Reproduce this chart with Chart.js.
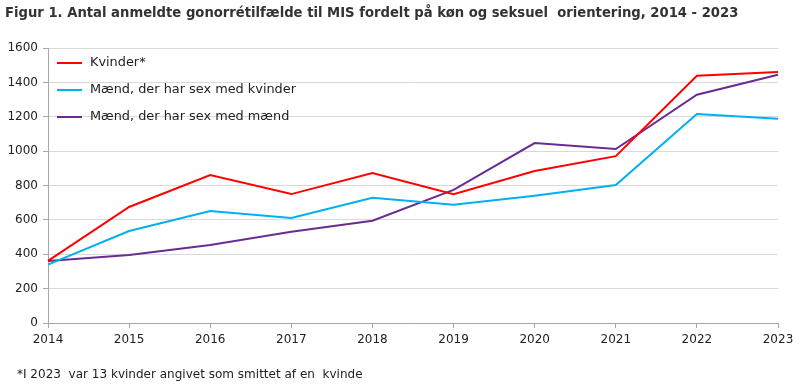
<!DOCTYPE html>
<html>
<head>
<meta charset="utf-8">
<script src="https://cdn.jsdelivr.net/npm/chart.js@4.4.0/dist/chart.umd.min.js"></script>
<style>
html,body{margin:0;padding:0;background:#fff;width:800px;height:390px;overflow:hidden;}
#title{position:absolute;left:5px;top:3px;font-family:"DejaVu Sans Condensed","DejaVu Sans",sans-serif;font-weight:bold;font-size:15px;color:#333;white-space:nowrap;}
#note{position:absolute;left:17px;top:367px;font-family:"DejaVu Sans",sans-serif;font-size:12px;color:#222;white-space:nowrap;}
#wrap{position:absolute;left:0;top:0;width:800px;height:390px;}
</style>
</head>
<body>
<div id="wrap"><canvas id="c" width="800" height="390"></canvas></div>
<div id="title">Figur 1. Antal anmeldte gonorrétilfælde til MIS fordelt på køn og seksuel&nbsp; orientering, 2014 - 2023</div>
<div id="note">*I 2023&nbsp; var 13 kvinder angivet som smittet af en&nbsp; kvinde</div>
<script>
const years = ["2014","2015","2016","2017","2018","2019","2020","2021","2022","2023"];
const kvinder = [361, 675, 861, 750, 873, 750, 884, 971, 1439, 1460];
const maendKvinder = [340, 535, 652, 611, 729, 688, 741, 803, 1216, 1189];
const maendMaend = [361, 396, 454, 531, 595, 774, 1047, 1012, 1328, 1444];
const seriesLabels = ["Kvinder*", "Mænd, der har sex med kvinder", "Mænd, der har sex med mænd"];
const seriesColors = ["#ff0000", "#00b0f0", "#6a2c91"];

const FONT = "DejaVu Sans";

// fit text widths to the reference
function fitWidth(el, target) {
  const w = el.getBoundingClientRect().width;
  const fs = parseFloat(getComputedStyle(el).fontSize);
  el.style.fontSize = (fs * target / w) + "px";
}
fitWidth(document.getElementById('title'), 734);
fitWidth(document.getElementById('note'), 346);

const legendPlugin = {
  id: 'insideLegend',
  afterDraw(chart) {
    const ctx = chart.ctx;
    const ys = [63, 90, 117];
    ctx.save();
    ctx.font = "13px " + FONT;
    const w = ctx.measureText(seriesLabels[1]).width;
    const fs = 13 * 206 / w;
    ctx.font = fs + "px " + FONT;
    ctx.textBaseline = "middle";
    chart.data.datasets.forEach((ds, i) => {
      ctx.strokeStyle = ds.borderColor;
      ctx.lineWidth = 2;
      ctx.beginPath();
      ctx.moveTo(57, ys[i]);
      ctx.lineTo(82, ys[i]);
      ctx.stroke();
      ctx.fillStyle = "#222";
      ctx.fillText(ds.label, 90, ys[i]);
    });
    ctx.restore();
  }
};

new Chart(document.getElementById('c'), {
  type: 'line',
  data: {
    labels: years,
    datasets: [
      {label: seriesLabels[0], data: kvinder, borderColor: seriesColors[0]},
      {label: seriesLabels[1], data: maendKvinder, borderColor: seriesColors[1]},
      {label: seriesLabels[2], data: maendMaend, borderColor: seriesColors[2]}
    ].map(d => Object.assign(d, {borderWidth: 2, pointRadius: 0, tension: 0, fill: false}))
  },
  options: {
    responsive: false,
    animation: false,
    layout: {padding: {left: 0, right: 22, top: 48, bottom: 0}},
    plugins: {legend: {display: false}, tooltip: {enabled: false}},
    scales: {
      x: {
        offset: false,
        grid: {display: true, drawOnChartArea: false, color: '#a6a6a6', tickLength: 5},
        border: {color: '#a6a6a6', width: 1},
        ticks: {color: '#222', font: {family: FONT, size: 12}, padding: 5, maxRotation: 0, autoSkip: false},
        afterFit(s) { s.height = 67; }
      },
      y: {
        min: 0, max: 1600,
        ticks: {stepSize: 200, color: '#222', font: {family: FONT, size: 12}, padding: 5,
                callback: v => String(v)},
        grid: {color: '#d9d9d9', tickLength: 5, tickColor: '#a6a6a6'},
        border: {color: '#a6a6a6', width: 1},
        afterFit(s) { s.width = 48; }
      }
    }
  },
  plugins: [legendPlugin]
});
</script>
</body>
</html>
